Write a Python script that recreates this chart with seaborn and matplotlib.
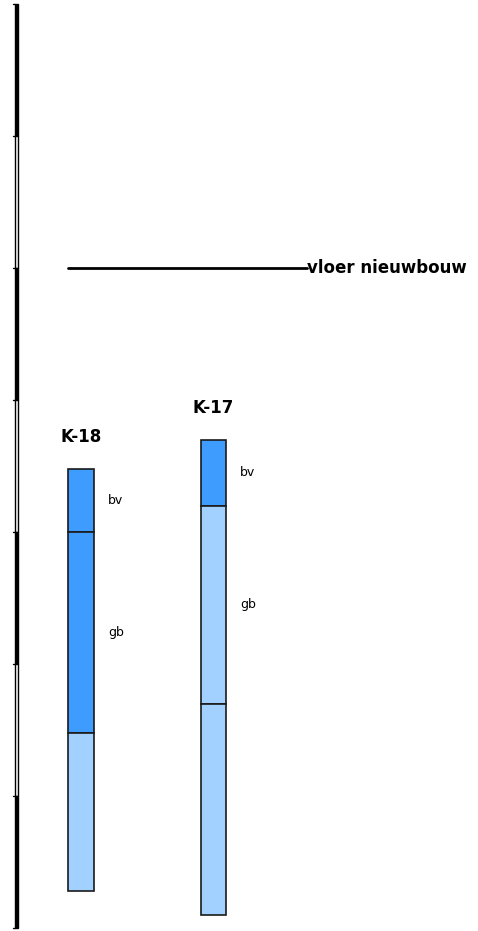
import matplotlib
matplotlib.use("Agg")
import matplotlib.pyplot as plt
import seaborn as sns
import numpy as np

# boringen
boreholes = ["K-18", "K-17"]
# laaggrenzen t.o.v. vloer nieuwbouw (m)
k18_tops = [-0.76, -1.00, -1.76]
k18_bottoms = [-1.00, -1.76, -2.36]
k18_codes = ["bv", "gb", ""]
k18_shade = ["donker", "donker", "licht"]

k17_tops = [-0.65, -0.90, -1.65]
k17_bottoms = [-0.90, -1.65, -2.45]
k17_codes = ["bv", "gb", ""]
k17_shade = ["donker", "licht", "licht"]

# schaalbalk (m)
scale_edges = [1.0, 0.5, 0.0, -0.5, -1.0, -1.5, -2.0, -2.5]
vloer_level = 0.0
vloer_label = "vloer nieuwbouw"

shade_colors = {"donker": "#3f9cff", "licht": "#a2d1ff"}

sns.set_theme(style="white")
plt.rcParams["font.family"] = ["DejaVu Sans"]
plt.rcParams["text.color"] = "black"

fig = plt.figure(figsize=(4.78, 9.31), dpi=100)
ax = fig.add_axes([0, 0, 1, 1])
ax.set_xlim(0, 478)
ax.set_ylim(-(931 - 268) / 264, 268 / 264)
ax.axis("off")

# schaalbalk
for i in range(len(scale_edges) - 1):
    top, bot = scale_edges[i], scale_edges[i + 1]
    fc = "black" if i % 2 == 0 else "white"
    ax.bar(16.5, top - bot, bottom=bot, width=3.2, color=fc,
           edgecolor="black", linewidth=1.0)
for e in scale_edges:
    ax.plot([13.5, 15.0], [e, e], color="black", linewidth=1)

# vloer nieuwbouw
ax.plot([68, 307], [vloer_level, vloer_level], color="black", linewidth=2)
ax.text(307, vloer_level, vloer_label, fontsize=12, fontweight="bold",
        va="center", ha="left")

columns = [
    (81, 26, k18_tops, k18_bottoms, k18_codes, k18_shade),
    (213.5, 25, k17_tops, k17_bottoms, k17_codes, k17_shade),
]
for name, (xc, w, tops, bots, codes, shades) in zip(boreholes, columns):
    tops = np.array(tops)
    bots = np.array(bots)
    ax.bar([xc] * len(tops), tops - bots, bottom=bots, width=w,
           color=[shade_colors[s] for s in shades],
           edgecolor="#1a1a1a", linewidth=1.2)
    for t, b, c in zip(tops, bots, codes):
        if c:
            ax.text(xc + w / 2 + 14, (t + b) / 2, c, fontsize=9,
                    va="center", ha="left")
    ax.text(xc, tops[0] + 0.1, name, fontsize=12, fontweight="bold",
            ha="center", va="baseline")

fig.savefig("out.png", dpi=100)
